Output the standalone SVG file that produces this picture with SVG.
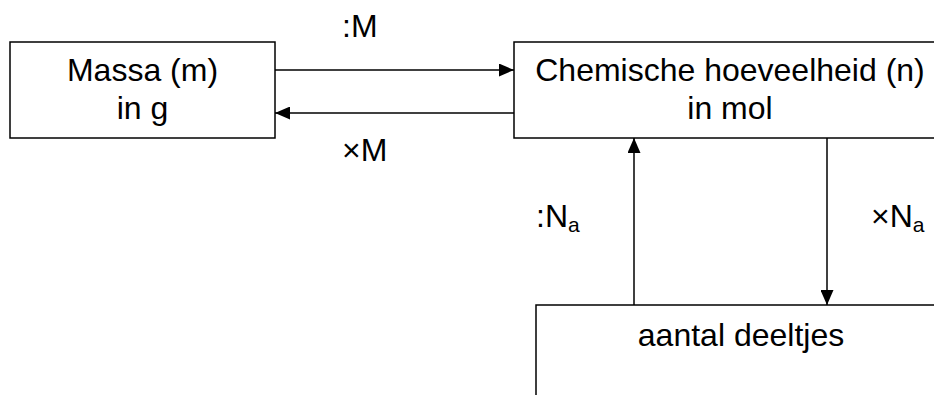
<svg xmlns="http://www.w3.org/2000/svg" width="934" height="395" viewBox="0 0 934 395">
<defs>
<marker id="arr" viewBox="0 0 15 13" refX="15" refY="6.5" markerWidth="15" markerHeight="13" markerUnits="userSpaceOnUse" orient="auto">
<path d="M0,0 L15,6.5 L0,13 Z" fill="#000"/>
</marker>
<style>
.box{fill:#fff;stroke:#000;stroke-width:1.5}
.t{font-family:"Liberation Sans",Arial,sans-serif;font-size:32px;fill:#000}
.c{stroke:#000;stroke-width:1.5;fill:none;marker-end:url(#arr)}
.sub{font-size:21px}
</style>
</defs>
<rect width="934" height="395" fill="#fff"/>
<g id="massa">
<rect class="box" x="10" y="42" width="265" height="96"/>
<text class="t" x="142.5" y="81" text-anchor="middle">Massa (m)</text>
<text class="t" x="142.5" y="119" text-anchor="middle">in g</text>
</g>
<g id="chem">
<rect class="box" x="514" y="42" width="436" height="96"/>
<text class="t" x="730" y="81" text-anchor="middle">Chemische hoeveelheid (n)</text>
<text class="t" x="730" y="119" text-anchor="middle">in mol</text>
</g>
<g id="deeltjes">
<rect class="box" x="536" y="305" width="410" height="120"/>
<text class="t" x="741" y="346" text-anchor="middle">aantal deeltjes</text>
</g>
<g id="connectors">
<line class="c" x1="275" y1="70" x2="514" y2="70"/>
<line class="c" x1="514" y1="113" x2="275" y2="113"/>
<line class="c" x1="634" y1="305" x2="634" y2="138"/>
<line class="c" x1="827" y1="138" x2="827" y2="305"/>
<text class="t" x="342" y="37">:M</text>
<text class="t" x="342" y="161">×M</text>
<text class="t" x="536" y="227">:N<tspan class="sub" dy="5">a</tspan></text>
<text class="t" x="871" y="227">×N<tspan class="sub" dy="5">a</tspan></text>
</g>
</svg>
